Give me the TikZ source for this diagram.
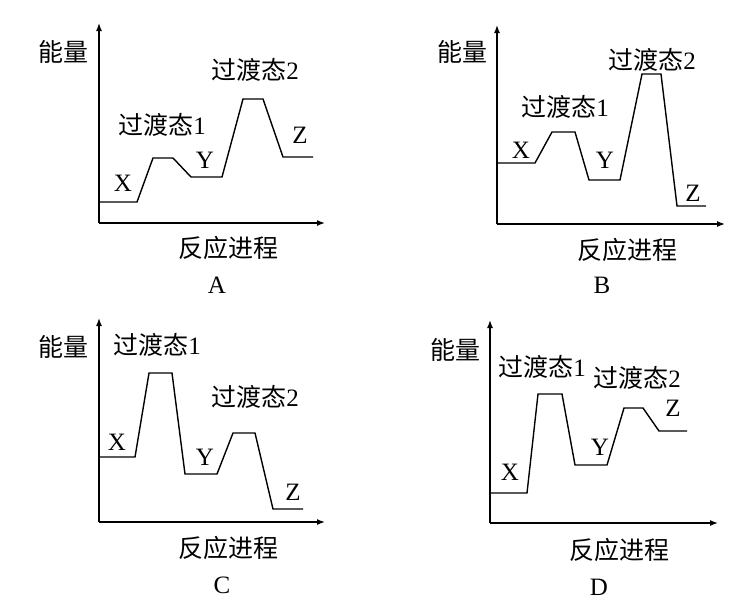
\documentclass[tikz,border=0pt]{standalone}
\usepackage{fontspec}
\setmainfont{Liberation Serif}
\newfontfamily\cjk{Noto Sans CJK SC}
\usetikzlibrary{arrows.meta, positioning}

% transition-state label
\newcommand{\tstate}[1]{{\cjk 过渡态}#1}

\begin{document}
\begin{tikzpicture}[
    x=0.5pt, y=-0.5pt,
    axis/.style={-{Latex[length=4pt, width=3pt]}, line width=0.7pt},
    curve/.style={line width=0.7pt, line join=miter},
    lbl/.style={inner sep=0pt, font=\fontsize{12.5}{14}\selectfont},
    zh/.style={inner sep=0pt, font=\cjk\fontsize{12.5}{14}\selectfont},
]
    \useasboundingbox (0,0) rectangle (748,606);

    % ---- panel A ----
    \coordinate (oA) at (99,223);
    \coordinate (yA) at (99,23);
    \coordinate (xA) at (325,223);
    \draw[axis] (oA) -- (yA);
    \draw[axis] (oA) -- (xA);
    \draw[curve] (99,202) -- (137,202) -- (153,158) -- (173,158) -- (191,177) -- (222,177)
        -- (243,99) -- (263,99) -- (283,157) -- (313,157);
    \node[zh] (eA) at (63,52) {能量};
    \node[zh] (pA) at (228,248) {反应进程};
    \node[lbl] (capA) at (217,285) {A};
    \node[lbl] (xnA) at (123,183) {X};
    \node[lbl] (ynA) at (205,160) {Y};
    \node[lbl] (znA) at (300,135) {Z};
    \node[lbl] (t1A) at (162,125) {\tstate{1}};
    \node[lbl] (t2A) at (255,70) {\tstate{2}};

    % ---- panel B ----
    \coordinate (oB) at (497,224);
    \coordinate (yB) at (497,25);
    \coordinate (xB) at (725,224);
    \draw[axis] (oB) -- (yB);
    \draw[axis] (oB) -- (xB);
    \draw[curve] (497,163) -- (535,163) -- (552,132) -- (575,132) -- (589,180) -- (620,180)
        -- (642,74) -- (661,74) -- (677,206) -- (706,206);
    \node[zh] (eB) at (462,52) {能量};
    \node[zh] (pB) at (627,250) {反应进程};
    \node[lbl] (capB) at (602,285) {B};
    \node[lbl] (xnB) at (521,150) {X};
    \node[lbl] (ynB) at (605,160) {Y};
    \node[lbl] (znB) at (693,193) {Z};
    \node[lbl] (t1B) at (565,107) {\tstate{1}};
    \node[lbl] (t2B) at (652,60) {\tstate{2}};

    % ---- panel C ----
    \coordinate (oC) at (99,522);
    \coordinate (yC) at (99,318);
    \coordinate (xC) at (325,522);
    \draw[axis] (oC) -- (yC);
    \draw[axis] (oC) -- (xC);
    \draw[curve] (99,457) -- (135,457) -- (149,373) -- (172,373) -- (185,474) -- (217,474)
        -- (233,433) -- (255,433) -- (273,509) -- (303,509);
    \node[zh] (eC) at (63,347) {能量};
    \node[zh] (pC) at (228,548) {反应进程};
    \node[lbl] (capC) at (222,585) {C};
    \node[lbl] (xnC) at (117,442) {X};
    \node[lbl] (ynC) at (205,457) {Y};
    \node[lbl] (znC) at (293,492) {Z};
    \node[lbl] (t1C) at (157,345) {\tstate{1}};
    \node[lbl] (t2C) at (255,397) {\tstate{2}};

    % ---- panel D ----
    \coordinate (oD) at (490,523);
    \coordinate (yD) at (490,320);
    \coordinate (xD) at (718,523);
    \draw[axis] (oD) -- (yD);
    \draw[axis] (oD) -- (xD);
    \draw[curve] (490,493) -- (527,493) -- (538,394) -- (562,394) -- (575,465) -- (607,465)
        -- (624,408) -- (643,408) -- (659,431) -- (687,431);
    \node[zh] (eD) at (455,350) {能量};
    \node[zh] (pD) at (619,550) {反应进程};
    \node[lbl] (capD) at (599,587) {D};
    \node[lbl] (xnD) at (510,472) {X};
    \node[lbl] (ynD) at (600,447) {Y};
    \node[lbl] (znD) at (673,408) {Z};
    \node[lbl] (t1D) at (542,367) {\tstate{1}};
    \node[lbl] (t2D) at (637,378) {\tstate{2}};
\end{tikzpicture}
\end{document}
